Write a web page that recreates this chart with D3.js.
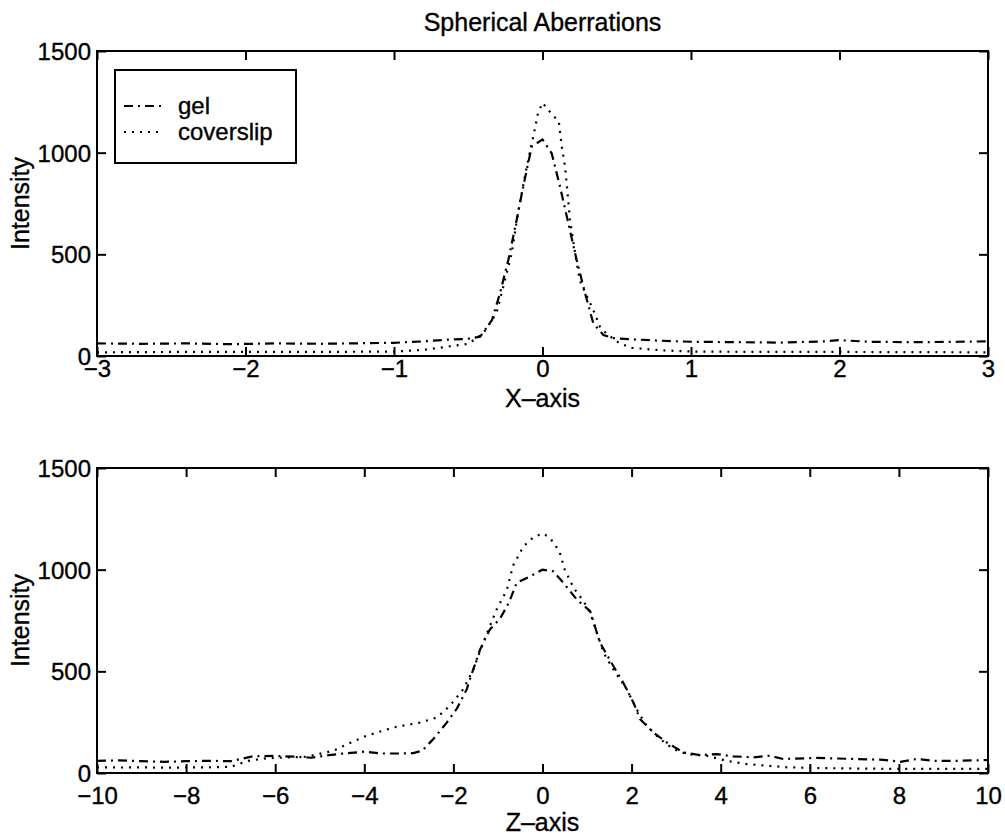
<!DOCTYPE html>
<html><head><meta charset="utf-8">
<script src="https://cdn.jsdelivr.net/npm/d3@7"></script>
<style>
body{margin:0;background:#fff}
text{font-family:"Liberation Sans",Arial,Helvetica,sans-serif;fill:#000;stroke:#000;stroke-width:0.35px}
</style>
</head><body>
<svg id="c" width="1005" height="838"></svg>
<script>
// ---------- data ----------
const chartTitle = "Spherical Aberrations";
const seriesNames = ["gel", "coverslip"];
const yTickValues = [0, 500, 1000, 1500];
const topXTicks = [-3, -2, -1, 0, 1, 2, 3];
const botXTicks = [-10, -8, -6, -4, -2, 0, 2, 4, 6, 8, 10];
const topXLabel = "X–axis";
const botXLabel = "Z–axis";
const yLabel = "Intensity";

// top panel (X-axis)
const topGelX = [-3.0,-2.7,-2.4,-2.1,-1.8,-1.5,-1.2,-1.0,-0.8,-0.65,-0.51,-0.42,-0.34,-0.286,-0.23,-0.174,-0.13,-0.073,0.0,0.062,0.118,0.174,0.23,0.286,0.342,0.41,0.475,0.6,0.8,1.0,1.3,1.6,1.9,2.0,2.2,2.5,2.8,3.0];
const topGelY = [62,60,62,58,62,60,63,65,72,80,84,95,177,310,472,669,833,1029,1065,997,833,653,472,310,161,103,88,82,75,70,68,66,72,78,70,68,70,72];
const topCovX = [-3.0,-2.5,-2.0,-1.5,-1.0,-0.8,-0.65,-0.5,-0.4,-0.31,-0.253,-0.207,-0.165,-0.106,-0.057,-0.03,0.0,0.05,0.11,0.13,0.152,0.167,0.185,0.22,0.25,0.30,0.342,0.387,0.43,0.52,0.6,0.8,1.0,1.5,2.0,2.5,3.0];
const topCovY = [18,20,20,20,22,30,45,60,110,211,374,506,703,931,1097,1195,1245,1201,1152,1029,931,816,669,505,374,292,226,144,111,62,40,28,22,20,20,19,18];

// bottom panel (Z-axis)
const botGelX = [-10,-9.5,-9,-8.5,-8,-7.5,-7,-6.5,-6,-5.5,-5.2,-4.8,-4.5,-4.0,-3.6,-3.2,-2.9,-2.7,-2.45,-2.15,-1.93,-1.7,-1.63,-1.4,-1.18,-0.95,-0.75,-0.58,-0.28,0.0,0.24,0.47,0.77,1.07,1.29,1.59,1.81,2.04,2.19,2.49,2.79,3.16,3.54,3.91,4.28,4.73,5.1,5.4,6.15,7.0,7.65,8.03,8.4,8.77,9.37,10];
const botGelY = [60,62,58,55,58,60,58,82,84,80,75,88,95,105,96,96,98,110,167,248,314,412,461,608,706,760,840,935,967,1000,992,935,853,796,641,526,445,347,265,199,150,101,88,93,82,77,85,69,74,69,65,55,69,60,60,64];
const botCovX = [-10,-9.5,-9,-8.5,-8,-7.5,-7,-6.6,-6.2,-5.9,-5.3,-4.7,-4.3,-3.95,-3.35,-2.75,-2.37,-2.08,-1.78,-1.55,-1.33,-1.03,-0.8,-0.66,-0.43,-0.2,0.0,0.15,0.28,0.39,0.5,0.7,0.92,1.07,1.22,1.37,1.59,1.89,2.11,2.34,2.64,2.94,3.24,3.69,4.13,4.58,5.03,5.5,6,7,8,9,10];
const botCovY = [28,27,28,26,27,28,30,60,72,75,80,109,150,183,224,248,273,330,412,510,642,804,900,1020,1114,1160,1178,1160,1123,1082,1000,910,845,790,690,592,510,412,314,232,167,118,93,85,60,44,36,28,25,22,20,20,20];

// ---------- drawing ----------
const svg = d3.select("#c");
const left = 97, right = 988;
const fsTick = 24, fsLab = 25;
const dashes = ["9,5,2,5", "2,6"];
const fmt = d3.format("d");

function panel(top, bottom, xDomain, xTicks, xLabel, series, legend, tickBase, labBase) {
  const x = d3.scaleLinear().domain(xDomain).range([left, right]);
  const y = d3.scaleLinear().domain([0, 1500]).range([bottom, top]);
  const g = svg.append("g");
  const tl = 9;

  const ax = g.append("g").attr("transform", `translate(0,${bottom})`)
    .call(d3.axisBottom(x).tickValues(xTicks).tickSizeInner(-tl).tickSizeOuter(0).tickFormat(fmt));
  const axT = g.append("g").attr("transform", `translate(0,${top})`)
    .call(d3.axisTop(x).tickValues(xTicks).tickSizeInner(-tl).tickSizeOuter(0).tickFormat(""));
  const ay = g.append("g").attr("transform", `translate(${left},0)`)
    .call(d3.axisLeft(y).tickValues(yTickValues).tickSizeInner(-tl).tickSizeOuter(0).tickFormat(fmt));
  const ayR = g.append("g").attr("transform", `translate(${right},0)`)
    .call(d3.axisRight(y).tickValues(yTickValues).tickSizeInner(-tl).tickSizeOuter(0).tickFormat(""));
  [ax, axT, ay, ayR].forEach(a => {
    a.select(".domain").remove();
    a.selectAll("line").attr("stroke", "#000").attr("stroke-width", 2);
    a.selectAll("text").attr("font-size", fsTick).attr("font-family", null).attr("fill", "#000");
  });
  ax.selectAll("text").attr("dy", null).attr("y", tickBase);
  ay.selectAll("text").attr("dy", "0.35em").attr("x", -6);

  g.append("rect").attr("x", left).attr("y", top).attr("width", right - left).attr("height", bottom - top)
    .attr("fill", "none").attr("stroke", "#000").attr("stroke-width", 2);

  const line = d3.line().x(d => x(d[0])).y(d => y(d[1]));
  series.forEach((s, i) => {
    const pts = s.xs.map((v, k) => [v, s.ys[k]]);
    g.append("path").attr("d", line(pts)).attr("fill", "none").attr("stroke", "#000")
      .attr("stroke-width", 2.2).attr("stroke-dasharray", dashes[i]);
  });

  g.append("text").attr("x", (left + right) / 2).attr("y", bottom + labBase).attr("text-anchor", "middle")
    .attr("font-size", fsLab).text(xLabel);
  g.append("text").attr("transform", `translate(29,${(top + bottom) / 2}) rotate(-90)`)
    .attr("text-anchor", "middle").attr("font-size", fsLab).text(yLabel);

  if (legend) {
    const lx = 115, ly = 70, lw = 181, lh = 93;
    const lg = g.append("g");
    lg.append("rect").attr("x", lx).attr("y", ly).attr("width", lw).attr("height", lh)
      .attr("fill", "#fff").attr("stroke", "#000").attr("stroke-width", 2);
    const rows = [106, 132];
    seriesNames.forEach((n, i) => {
      lg.append("line").attr("x1", 124).attr("x2", 164).attr("y1", rows[i]).attr("y2", rows[i])
        .attr("stroke", "#000").attr("stroke-width", 2).attr("stroke-dasharray", dashes[i]);
      lg.append("text").attr("x", 178).attr("y", rows[i]).attr("dy", "0.35em").attr("font-size", fsTick).text(n);
    });
  }
}

svg.append("text").attr("x", (left + right) / 2).attr("y", 31).attr("text-anchor", "middle")
  .attr("font-size", fsLab).text(chartTitle);

panel(51, 356, [-3, 3], topXTicks, topXLabel,
  [{xs: topGelX, ys: topGelY}, {xs: topCovX, ys: topCovY}], true, 21, 51);
panel(468, 773, [-10, 10], botXTicks, botXLabel,
  [{xs: botGelX, ys: botGelY}, {xs: botCovX, ys: botCovY}], false, 31, 58);
</script>
</body></html>
